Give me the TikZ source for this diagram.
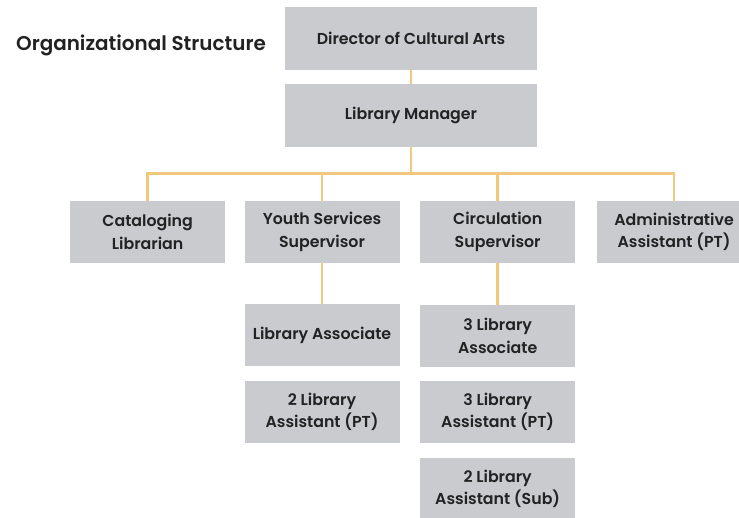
\documentclass[tikz,border=0pt]{standalone}
\usepackage{fontspec}
\setmainfont{Poppins}[UprightFont=* SemiBold]
\usepackage{tikz}
\definecolor{boxgray}{HTML}{C9CBCF}
\definecolor{linkgold}{HTML}{F0C97E}
\definecolor{inkgray}{HTML}{222222}
\tikzset{mybox/.style={fill=boxgray, text=inkgray, align=center, inner sep=2pt, minimum width=4.65cm, minimum height=1.86cm, font=\fontsize{13.5}{19}\selectfont}}
\tikzset{topbox/.style={mybox, minimum width=7.56cm, minimum height=1.89cm}}
\tikzset{mylink/.style={draw=linkgold, line width=2.5pt}}

\begin{document}
\begin{tikzpicture}
    \useasboundingbox (0,0) rectangle (22.17,-15.54);
    \clip (0,0) rectangle (22.17,-15.54);

    \node[text=inkgray, font=\fontsize{17}{20}\selectfont] (title) at (4.23, -1.35) {Organizational Structure};

    \node[topbox] (dir) at (12.33, -1.16) {Director of Cultural Arts};
    \node[topbox] (man) at (12.33, -3.47) {Library Manager};

    \node[mybox] (cat)   at (4.43, -6.96)  {Cataloging\\Librarian};
    \node[mybox] (youth) at (9.66, -6.96)  {Youth Services\\Supervisor};
    \node[mybox] (circ)  at (14.93, -6.96) {Circulation\\Supervisor};
    \node[mybox] (admin) at (20.22, -6.96) {Administrative\\Assistant (PT)};

    \node[mybox] (yassoc) at (9.66, -10.05)  {Library Associate};
    \node[mybox] (yasst)  at (9.66, -12.35)  {2 Library\\Assistant (PT)};
    \node[mybox] (cassoc) at (14.93, -10.08) {3 Library\\Associate};
    \node[mybox] (casst)  at (14.93, -12.36) {3 Library\\Assistant (PT)};
    \node[mybox] (csub)   at (14.93, -14.67) {2 Library\\Assistant (Sub)};

    \draw[mylink] (dir) -- (man);
    \draw[mylink] (man.south) -- ++(0,-0.78) -| (cat.north);
    \draw[mylink] (man.south) -- ++(0,-0.78) -| (youth.north);
    \draw[mylink] (man.south) -- ++(0,-0.78) -| (circ.north);
    \draw[mylink] (man.south) -- ++(0,-0.78) -| (admin.north);

    \draw[mylink] (youth) -- (yassoc);
    \draw[mylink] (circ) -- (cassoc);

\end{tikzpicture}
\end{document}
